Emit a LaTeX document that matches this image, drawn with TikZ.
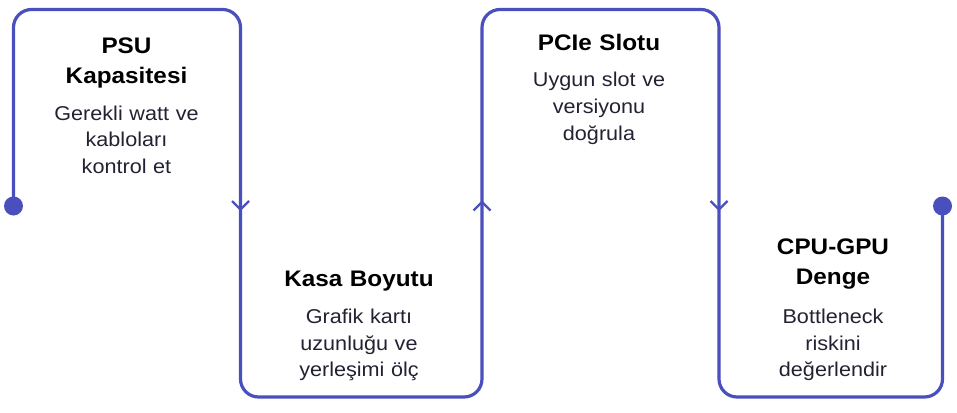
\documentclass[tikz,border=0pt]{standalone}
\usepackage{fontspec}
\setmainfont{Liberation Sans}[FakeStretch=1.08]
\begin{document}
\begin{tikzpicture}[x=1pt,y=-1pt,
  flow/.style={draw=lineC,line width=3.2pt,rounded corners=18pt},
  tip/.style={draw=lineC,line width=2.2pt},
  enddot/.style={circle,fill=lineC,inner sep=0pt,minimum size=19pt},
  title/.style={text width=220pt,align=center,inner sep=0pt,anchor=base,text=black,font=\fontsize{22.5}{30}\selectfont\bfseries},
  body/.style={text width=220pt,align=center,inner sep=0pt,anchor=base,text=bodyC,font=\fontsize{20}{26.7}\selectfont}]
\definecolor{lineC}{HTML}{4A4FBE}
\definecolor{bodyC}{HTML}{222233}
\useasboundingbox (0,0) rectangle (957,412);
% corners
\coordinate (s) at (13.5,206);
\coordinate (c1) at (13.5,9.5);
\coordinate (c2) at (240.5,9.5);
\coordinate (c3) at (240.5,397);
\coordinate (c4) at (482,397);
\coordinate (c5) at (482,9.5);
\coordinate (c6) at (719,9.5);
\coordinate (c7) at (719,397);
\coordinate (c8) at (942.5,397);
\coordinate (e) at (942.5,206);
\draw[flow] (s) -- (c1) -- (c2) -- (c3) -- (c4) -- (c5) -- (c6) -- (c7) -- (c8) -- (e);
\node[enddot] (d1) at (s) {};
\node[enddot] (d2) at (e) {};
% arrow marks
\coordinate (a1) at (240.5,209.5);
\coordinate (a2) at (482,202);
\coordinate (a3) at (719,209.5);
\draw[tip] ([shift={(-8.5,-8.5)}]a1) -- (a1) -- ([shift={(8.5,-8.5)}]a1);
\draw[tip] ([shift={(-8.5,8.5)}]a2) -- (a2) -- ([shift={(8.5,8.5)}]a2);
\draw[tip] ([shift={(-8.5,-8.5)}]a3) -- (a3) -- ([shift={(8.5,-8.5)}]a3);
% texts
\node[title] (t1) at (126.5,53.5) {PSU\\Kapasitesi};
\node[body] (b1) at (126.5,120) {Gerekli watt ve\\kabloları\\kontrol et};
\node[title] (t2) at (359,286.7) {Kasa Boyutu};
\node[body] (b2) at (359,323.3) {Grafik kartı\\uzunluğu ve\\yerleşimi ölç};
\node[title] (t3) at (599,51) {PCIe Slotu};
\node[body] (b3) at (599,86.7) {Uygun slot ve\\versiyonu\\doğrula};
\node[title] (t4) at (833,254) {CPU-GPU\\Denge};
\node[body] (b4) at (833,323.3) {Bottleneck\\riskini\\değerlendir};
\end{tikzpicture}
\end{document}
